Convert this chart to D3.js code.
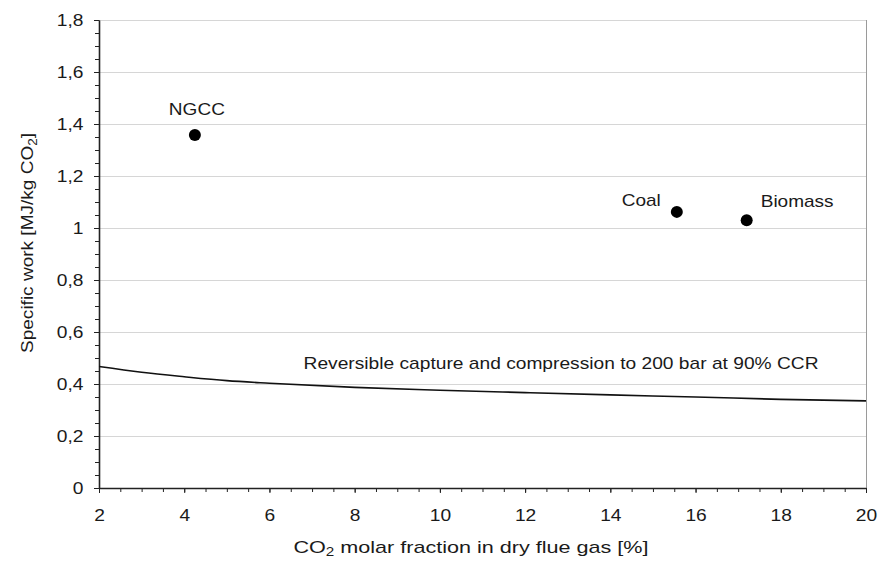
<!DOCTYPE html>
<html>
<head>
<meta charset="utf-8">
<script src="https://cdn.jsdelivr.net/npm/d3@7"></script>
<style>
  body { margin: 0; background: #fff; }
  svg { display: block; font-family: "Liberation Sans", Arial, sans-serif; }
  .axis text { font-size: 16px; fill: #1a1a1a; }
  .axis path, .axis line { stroke: #222; }
  .grid line { stroke: #d6d6d6; }
  .lbl { font-size: 17px; fill: #1a1a1a; }
</style>
</head>
<body>
<div class="chart"></div>
<script>
// plants (scatter points)
const plants    = [ "NGCC", "Coal", "Biomass" ];
const plantCO2  = [ 4.25, 15.56, 17.2 ];
const plantWork = [ 1.358, 1.062, 1.03 ];

// reversible capture + compression curve
const curveCO2  = [ 2, 3, 4, 5, 6, 8, 10, 12, 14, 16, 18, 20 ];
const curveWork = [ 0.467, 0.445, 0.428, 0.413, 0.403, 0.387, 0.376, 0.367, 0.358, 0.350, 0.341, 0.335 ];

const xTicks = [ 2, 4, 6, 8, 10, 12, 14, 16, 18, 20 ];
const yTicks = [ 0, 0.2, 0.4, 0.6, 0.8, 1, 1.2, 1.4, 1.6, 1.8 ];

const width  = 879;
const height = 561;
const margin = { top: 20, right: 13, bottom: 73, left: 99 };

// the source figure's lettering is a bit wide
const stretch = 1.2;

const svg = d3.select( ".chart" )
  .append( "svg" )
    .attr( "width", width )
    .attr( "height", height );

const g = svg.append( "g" )
  .attr( "transform", `translate(${ margin.left },${ margin.top })` );

const w = width - margin.left - margin.right;
const h = height - margin.top - margin.bottom;

const x = d3.scaleLinear().domain( [ 2, 20 ] ).range( [ 0, w ] );
const y = d3.scaleLinear().domain( [ 0, 1.8 ] ).range( [ h, 0 ] );

const fmt = d => String( +d.toFixed(1) ).replace( ".", "," );

// horizontal grid
g.append( "g" )
  .attr( "class", "grid" )
  .selectAll( "line" )
  .data( yTicks.slice( 1 ) )
  .enter().append( "line" )
    .attr( "x1", 0 )
    .attr( "x2", w )
    .attr( "y1", d => Math.round( y( d ) ) + 0.5 )
    .attr( "y2", d => Math.round( y( d ) ) + 0.5 );

// right frame
g.append( "line" )
  .attr( "x1", w + 0.5 ).attr( "x2", w + 0.5 )
  .attr( "y1", 0 ).attr( "y2", h )
  .attr( "stroke", "#9a9a9a" );

// minor ticks
g.append( "g" )
  .attr( "class", "axis" )
  .attr( "transform", `translate(0,${ h })` )
  .call( d3.axisBottom( x ).ticks( 45 ).tickSize( 4 ).tickFormat( "" ).tickSizeOuter( 0 ) );

g.append( "g" )
  .attr( "class", "axis" )
  .call( d3.axisLeft( y ).ticks( 45 ).tickSize( 4 ).tickFormat( "" ).tickSizeOuter( 0 ) );

// major axes
const xAxis = g.append( "g" )
  .attr( "class", "axis" )
  .attr( "transform", `translate(0,${ h })` )
  .call( d3.axisBottom( x ).tickValues( xTicks ).tickSize( 5 ).tickPadding( 17 ).tickSizeOuter( 0 ) );

const yAxis = g.append( "g" )
  .attr( "class", "axis" )
  .call( d3.axisLeft( y ).tickValues( yTicks ).tickFormat( fmt ).tickSize( 5 ).tickPadding( 8 ).tickSizeOuter( 0 ) );

xAxis.select( ".domain" ).attr( "stroke-width", 1.6 );
yAxis.select( ".domain" ).attr( "stroke-width", 1.6 );
xAxis.selectAll( "text" ).attr( "transform", `scale(${ stretch },1)` );
yAxis.selectAll( "text" ).attr( "transform", `scale(${ stretch },1)` );

// curve
const line = d3.line()
  .x( ( d, i ) => x( curveCO2[ i ] ) )
  .y( d => y( d ) )
  .curve( d3.curveMonotoneX );

g.append( "path" )
  .datum( curveWork )
  .attr( "fill", "none" )
  .attr( "stroke", "#111" )
  .attr( "stroke-width", 1.6 )
  .attr( "d", line );

g.append( "text" )
  .attr( "class", "lbl" )
  .attr( "font-size", 18 )
  .attr( "x", x( 6.8 ) )
  .attr( "y", y( 0.458 ) )
  .attr( "textLength", 515 )
  .attr( "lengthAdjust", "spacingAndGlyphs" )
  .text( "Reversible capture and compression to 200 bar at 90% CCR" );

// points
g.selectAll( "circle.plant" )
  .data( plants )
  .enter().append( "circle" )
    .attr( "class", "plant" )
    .attr( "cx", ( d, i ) => x( plantCO2[ i ] ) )
    .attr( "cy", ( d, i ) => y( plantWork[ i ] ) )
    .attr( "r", 6 )
    .attr( "fill", "#000" );

const labelPos = [
  { dx: 2,   dy: -20, anchor: "middle" },
  { dx: -16, dy: -6,  anchor: "end" },
  { dx: 14,  dy: -13, anchor: "start" }
];

g.selectAll( "text.plant" )
  .data( plants )
  .enter().append( "text" )
    .attr( "class", "lbl plant" )
    .attr( "transform", ( d, i ) =>
      `translate(${ x( plantCO2[ i ] ) + labelPos[ i ].dx },${ y( plantWork[ i ] ) + labelPos[ i ].dy }) scale(1.12,1)` )
    .attr( "text-anchor", ( d, i ) => labelPos[ i ].anchor )
    .text( d => d );

// axis titles
const xt = svg.append( "text" )
  .attr( "class", "lbl" )
  .attr( "transform", "translate(471,553) scale(1.27,1)" )
  .attr( "text-anchor", "middle" );
xt.append( "tspan" ).text( "CO" );
xt.append( "tspan" ).attr( "dy", 3 ).attr( "font-size", 12 ).text( "2" );
xt.append( "tspan" ).attr( "dy", -3 ).text( " molar fraction in dry flue gas [%]" );

const yt = svg.append( "text" )
  .attr( "class", "lbl" )
  .attr( "transform", "translate(33,243) rotate(-90) scale(1.12,1)" )
  .attr( "text-anchor", "middle" );
yt.append( "tspan" ).text( "Specific work [MJ/kg CO" );
yt.append( "tspan" ).attr( "dy", 4 ).attr( "font-size", 12 ).text( "2" );
yt.append( "tspan" ).attr( "dy", -4 ).text( "]" );
</script>
</body>
</html>
